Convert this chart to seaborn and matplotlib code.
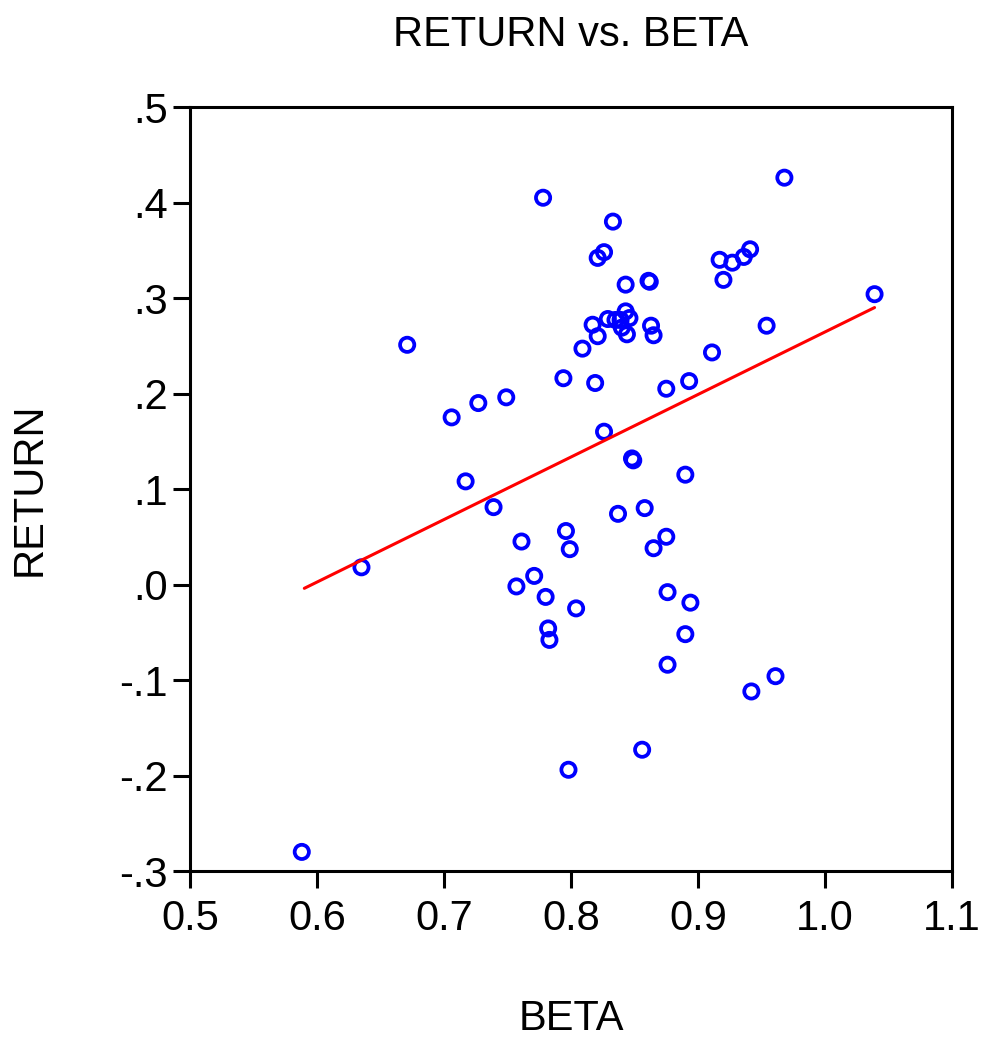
import pandas as pd
import seaborn as sns
import matplotlib.pyplot as plt
from matplotlib.ticker import FixedLocator, FixedFormatter

# dane
beta = [0.588, 0.635, 0.671, 0.706, 0.717, 0.727, 0.739, 0.749, 0.761, 0.757,
        0.771, 0.778, 0.780, 0.782, 0.783, 0.794, 0.796, 0.799, 0.798, 0.804,
        0.809, 0.819, 0.817, 0.821, 0.826, 0.826, 0.821, 0.833, 0.829, 0.835,
        0.839, 0.843, 0.846, 0.840, 0.844, 0.843, 0.837, 0.848, 0.849, 0.858,
        0.856, 0.861, 0.862, 0.863, 0.865, 0.865, 0.875, 0.875, 0.876, 0.876,
        0.890, 0.890, 0.893, 0.894, 0.911, 0.917, 0.920, 0.927, 0.936, 0.941,
        0.942, 0.954, 0.961, 0.968, 1.039]
ret = [-0.280, 0.018, 0.251, 0.175, 0.108, 0.190, 0.081, 0.196, 0.045, -0.002,
       0.009, 0.405, -0.013, -0.046, -0.058, 0.216, 0.056, 0.037, -0.194, -0.025,
       0.247, 0.211, 0.272, 0.342, 0.348, 0.160, 0.260, 0.380, 0.278, 0.277,
       0.277, 0.286, 0.279, 0.269, 0.262, 0.314, 0.074, 0.132, 0.130, 0.080,
       -0.173, 0.318, 0.317, 0.271, 0.261, 0.038, 0.205, 0.050, -0.008, -0.084,
       -0.052, 0.115, 0.213, -0.019, 0.243, 0.340, 0.319, 0.337, 0.343, 0.351,
       -0.112, 0.271, -0.096, 0.426, 0.304]

# linia regresji (odczytana)
fit_beta = [0.590, 1.039]
fit_ret = [-0.004, 0.290]

x_ticks = [0.5, 0.6, 0.7, 0.8, 0.9, 1.0, 1.1]
x_labels = ['0.5', '0.6', '0.7', '0.8', '0.9', '1.0', '1.1']
y_ticks = [0.5, 0.4, 0.3, 0.2, 0.1, 0.0, -0.1, -0.2, -0.3]
y_labels = ['.5', '.4', '.3', '.2', '.1', '.0', '-.1', '-.2', '-.3']

df = pd.DataFrame({'BETA': beta, 'RETURN': ret})
fit = pd.DataFrame({'BETA': fit_beta, 'RETURN': fit_ret})

sns.set_style('white')
plt.rcParams['font.family'] = ['Liberation Sans', 'DejaVu Sans']
plt.rcParams['text.color'] = 'black'
plt.rcParams['axes.labelcolor'] = 'black'
plt.rcParams['xtick.color'] = 'black'
plt.rcParams['ytick.color'] = 'black'

fig = plt.figure(figsize=(9.83, 10.46), dpi=100)
ax = fig.add_axes([0.1933, 0.1673, 0.7752, 0.7304])

sns.lineplot(data=fit, x='BETA', y='RETURN', color='red', linewidth=2.2, ax=ax)
sns.scatterplot(data=df, x='BETA', y='RETURN', marker='o', s=105,
                facecolor='none', edgecolor='blue', linewidth=2.7, ax=ax)

ax.set_xlim(0.5, 1.1)
ax.set_ylim(-0.3, 0.5)
ax.xaxis.set_major_locator(FixedLocator(x_ticks))
ax.xaxis.set_major_formatter(FixedFormatter(x_labels))
ax.yaxis.set_major_locator(FixedLocator(y_ticks))
ax.yaxis.set_major_formatter(FixedFormatter(y_labels))

ax.tick_params(axis='both', direction='out', length=12, width=2.2, labelsize=30,
               bottom=True, left=True)
ax.tick_params(axis='x', pad=8)
ax.tick_params(axis='y', pad=4)
for s in ax.spines.values():
    s.set_linewidth(2.2)
    s.set_color('black')

ax.set_title('RETURN vs. BETA', fontsize=30, y=1.08, pad=0)
ax.set_xlabel('BETA', fontsize=30)
ax.set_ylabel('RETURN', fontsize=30)
ax.xaxis.set_label_coords(0.5, -0.168)
ax.yaxis.set_label_coords(-0.184, 0.5)

fig.savefig('out.png', dpi=100)
